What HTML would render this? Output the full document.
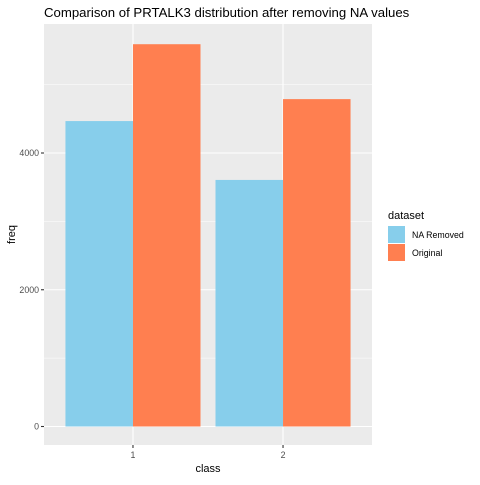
<!DOCTYPE html>
<html><head><meta charset="utf-8"><style>
body{margin:0;background:#fff;}
svg text{font-family:"Liberation Sans",Arial,sans-serif;}
</style></head><body>
<svg id="chart" width="480" height="480" xmlns="http://www.w3.org/2000/svg">
<rect x="0" y="0" width="480" height="480" fill="#fff"/>
<text x="44" y="17" font-size="13.2" fill="#000">Comparison of PRTALK3 distribution after removing NA values</text>
<rect x="44" y="24" width="328" height="421" fill="#ebebeb"/>
<g id="grid"></g>
<g id="bars"></g>
<g id="axes"></g>
<text x="208" y="472" font-size="11" text-anchor="middle" fill="#000">class</text>
<text transform="translate(15,234.5) rotate(-90)" font-size="11" text-anchor="middle" fill="#000">freq</text>
<text x="388" y="219" font-size="11" fill="#000">dataset</text>
<g>
<rect x="388" y="226" width="17" height="17" fill="#87ceeb"/>
<text x="412" y="238" font-size="8.8" fill="#000">NA Removed</text>
</g>
<g>
<rect x="388" y="244" width="17" height="17" fill="#ff7f50"/>
<text x="412" y="256" font-size="8.8" fill="#000">Original</text>
</g>
</svg>
<script>
const categories = ["1", "2"];
const naRemoved = [4467, 3606];
const original = [5591, 4788];
const yTicks = [0, 2000, 4000];
const yMinor = [1000, 3000, 5000];

const NS = "http://www.w3.org/2000/svg";
const panelL = 44, panelR = 372, panelT = 24, panelB = 445;
const xMin = 0.407, xMax = 2.593;
function xs(v){ return panelL + (v - xMin) / (xMax - xMin) * (panelR - panelL); }
function ys(v){ return 426.5 - v * (136.75 / 2000); }
function mk(tag, attrs, parent){
  const e = document.createElementNS(NS, tag);
  for (const k in attrs) e.setAttribute(k, attrs[k]);
  parent.appendChild(e);
  return e;
}
const grid = document.getElementById("grid");
const bars = document.getElementById("bars");
const axes = document.getElementById("axes");

yMinor.forEach(v => {
  const l = mk("line", {x1: panelL, x2: panelR, y1: ys(v), y2: ys(v), stroke: "#fff", "stroke-width": 0.55}, grid);
  
  
});
yTicks.forEach(v => {
  const l = mk("line", {x1: panelL, x2: panelR, y1: ys(v), y2: ys(v), stroke: "#fff", "stroke-width": 1.1}, grid);
  
  
  const t = mk("line", {x1: panelL - 3, x2: panelL, y1: ys(v), y2: ys(v), stroke: "#333", "stroke-width": 1.1}, axes);
  
  
  const tx = mk("text", {x: panelL - 5, y: ys(v) + 3, "font-size": 8.8, "text-anchor": "end", fill: "#4d4d4d"}, axes);
  tx.textContent = String(v);
  
  
});
categories.forEach((c, i) => {
  const cx = xs(i + 1);
  const l = mk("line", {x1: cx, x2: cx, y1: panelT, y2: panelB, stroke: "#fff", "stroke-width": 1.1}, grid);
  
  
  const w = xs(i + 1.45) - cx;
  const b1 = mk("rect", {x: cx - w, y: ys(naRemoved[i]), width: w, height: ys(0) - ys(naRemoved[i]), fill: "#87ceeb"}, bars);
  
  
  const b2 = mk("rect", {x: cx, y: ys(original[i]), width: w, height: ys(0) - ys(original[i]), fill: "#ff7f50"}, bars);
  
  
  const t = mk("line", {x1: cx, x2: cx, y1: panelB, y2: panelB + 3, stroke: "#333", "stroke-width": 1.1}, axes);
  
  
  const tx = mk("text", {x: cx, y: panelB + 13, "font-size": 8.8, "text-anchor": "middle", fill: "#4d4d4d"}, axes);
  tx.textContent = c;
  
  
});
</script>
</body></html>
